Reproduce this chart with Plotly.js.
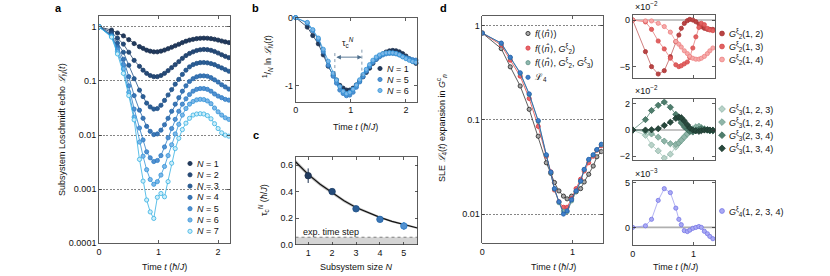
<!DOCTYPE html>
<html><head><meta charset="utf-8">
<script src="https://cdn.plot.ly/plotly-3.0.1.min.js"></script>
<style>html,body{margin:0;padding:0;background:#fff}#chart{width:830px;height:276px}</style>
</head><body><div id="chart"></div>
<script>
// ---------- DATA ----------
// panel a: subsystem Loschmidt echo L_N(t)
const timeA = [0, 0.21, 0.31, 0.41, 0.50, 0.59, 0.68, 0.74, 0.80, 0.86, 0.92, 0.98, 1.04, 1.10, 1.16, 1.22, 1.28, 1.34, 1.40, 1.46, 1.52, 1.58, 1.64, 1.70, 1.76, 1.82, 1.88, 1.94, 2.00, 2.06, 2.12, 2.18];
const echoN1 = [1.000, 0.871, 0.769, 0.681, 0.579, 0.490, 0.430, 0.400, 0.370, 0.355, 0.345, 0.345, 0.355, 0.372, 0.394, 0.419, 0.447, 0.476, 0.511, 0.542, 0.568, 0.587, 0.604, 0.614, 0.618, 0.615, 0.605, 0.589, 0.569, 0.547, 0.527, 0.511];
const echoN2 = [1.000, 0.794, 0.617, 0.479, 0.339, 0.240, 0.186, 0.158, 0.138, 0.126, 0.120, 0.120, 0.126, 0.138, 0.155, 0.176, 0.200, 0.227, 0.261, 0.294, 0.322, 0.345, 0.365, 0.377, 0.382, 0.378, 0.368, 0.350, 0.328, 0.305, 0.285, 0.269];
const echoN3 = [1.000, 0.724, 0.501, 0.339, 0.195, 0.110, 0.0676, 0.0513, 0.0389, 0.0331, 0.0302, 0.0309, 0.0355, 0.0437, 0.0550, 0.0692, 0.0871, 0.107, 0.132, 0.158, 0.182, 0.200, 0.211, 0.218, 0.219, 0.216, 0.209, 0.200, 0.186, 0.174, 0.162, 0.151];
const echoN4 = [1.000, 0.692, 0.427, 0.251, 0.120, 0.0537, 0.0288, 0.0204, 0.0145, 0.0117, 0.0102, 0.0105, 0.0123, 0.0155, 0.0204, 0.0275, 0.0372, 0.0490, 0.0646, 0.0813, 0.0977, 0.110, 0.119, 0.124, 0.124, 0.122, 0.115, 0.105, 0.0955, 0.0851, 0.0776, 0.0708];
const echoN5 = [1.000, 0.676, 0.389, 0.200, 0.0813, 0.0302, 0.0135, 0.00813, 0.00490, 0.00380, 0.00324, 0.00339, 0.00417, 0.00603, 0.00891, 0.0132, 0.0195, 0.0275, 0.0372, 0.0468, 0.0562, 0.0646, 0.0700, 0.0724, 0.0724, 0.0700, 0.0646, 0.0575, 0.0525, 0.0490, 0.0457, 0.0442];
const echoN6 = [1.000, 0.661, 0.347, 0.166, 0.0617, 0.0214, 0.00741, 0.00407, 0.00229, 0.00151, 0.00123, 0.00138, 0.00182, 0.00263, 0.00417, 0.00661, 0.0105, 0.0158, 0.0234, 0.0309, 0.0372, 0.0417, 0.0447, 0.0457, 0.0452, 0.0427, 0.0380, 0.0316, 0.0269, 0.0234, 0.0209, 0.0195];
const echoN7 = [1.000, 0.646, 0.316, 0.138, 0.0537, 0.0191, 0.00355, 0.00141, 0.000631, 0.000380, 0.000288, 0.000708, 0.000832, 0.000724, 0.00138, 0.00302, 0.00562, 0.00871, 0.0126, 0.0166, 0.0204, 0.0234, 0.0245, 0.0248, 0.0245, 0.0229, 0.0200, 0.0162, 0.0132, 0.0110, 0.0100, 0.00955];
const sizesA = [1, 2, 3, 4, 5, 6, 7];
const sizesB = [1, 5, 6];

// panel c: critical time vs subsystem size
const sizeN = [1, 2, 3, 4, 5];
const tauC = [0.52, 0.40, 0.27, 0.19, 0.14];
const tauErr = [0.055, 0.012, 0.010, 0.015, 0.030];
const fitN = [0.47, 1, 1.5, 2, 2.5, 3, 3.5, 4, 4.5, 5, 5.57];
const fitTau = [0.625, 0.53, 0.455, 0.39, 0.33, 0.28, 0.24, 0.205, 0.175, 0.15, 0.125];
const fitLow = [0.607, 0.514, 0.441, 0.377, 0.318, 0.269, 0.230, 0.196, 0.167, 0.142, 0.117];
const fitHigh = [0.643, 0.546, 0.469, 0.403, 0.342, 0.291, 0.250, 0.214, 0.183, 0.158, 0.133];
const expTimeStep = 0.055;

// panel d: SLE expansion
const timeD = [0, 0.21, 0.31, 0.42, 0.52, 0.62, 0.71, 0.76, 0.80, 0.85, 0.90, 0.94, 0.99, 1.04, 1.09, 1.13, 1.18, 1.23, 1.27, 1.32];
const sleF = [0.83, 0.568, 0.364, 0.228, 0.129, 0.0668, 0.035, 0.027, 0.0216, 0.0176, 0.0155, 0.0145, 0.0155, 0.0172, 0.0186, 0.0219, 0.0264, 0.0323, 0.0405, 0.046];
const sleFG2 = [0.83, 0.62, 0.428, 0.29, 0.168, 0.085, 0.041, 0.028, 0.018, 0.0135, 0.0118, 0.0118, 0.0146, 0.0186, 0.0234, 0.0286, 0.035, 0.041, 0.0475, 0.053];
const sleFG2G3 = [0.83, 0.645, 0.455, 0.31, 0.185, 0.096, 0.042, 0.0276, 0.0184, 0.0132, 0.0107, 0.0106, 0.0138, 0.0174, 0.0222, 0.0295, 0.0375, 0.0422, 0.048, 0.0545];
const sleL4 = [0.83, 0.65, 0.46, 0.315, 0.188, 0.098, 0.0425, 0.0279, 0.0186, 0.0135, 0.0100, 0.0108, 0.0142, 0.0176, 0.0224, 0.0298, 0.038, 0.0425, 0.0483, 0.055];
// connected correlators (G2, G3 in units of 1e-2, G4 in units of 1e-3)
const g2_12 = [0, -3.39, -5.0, -5.79, -5.43, -3.93, -2.32, -1.61, -0.89, -0.36, -0.07, 0.07, 0, -0.18, -0.43, -0.71, -0.89, -1.0, -1.0, -1.0];
const g2_13 = [0, -0.2, -1.0, -2.25, -3.1, -4.1, -4.8, -5.0, -4.9, -4.7, -4.5, -4.0, -3.0, -1.8, -0.8, -0.35, -0.5, -0.9, -1.07, -1.14];
const g2_14 = [0, -0.1, -0.1, -0.35, -0.7, -1.3, -2.3, -2.6, -2.9, -3.3, -3.6, -3.9, -4.1, -4.2, -4.2, -4.1, -3.9, -3.6, -3.3, -3.0];
const g3_123 = [0, -0.4, -1.15, -1.6, -2.15, -1.85, -1.3, -1.0, -0.75, -0.5, -0.25, -0.05, 0.1, 0.25, 0.3, 0.2, 0.1, 0.0, -0.05, -0.05];
const g3_124 = [0, -0.1, -0.3, -0.55, -0.85, -1.05, -1.1, -1.0, -0.8, -0.55, -0.3, -0.1, 0.05, 0.2, 0.25, 0.15, 0.05, 0, -0.05, 0];
const g3_234 = [0, 0.8, 1.5, 1.9, 2.15, 1.75, 1.2, 0.9, 0.55, 0.25, 0.05, -0.1, -0.15, -0.05, 0.05, 0.1, 0.05, 0, -0.05, -0.05];
const g3_134 = [0, 0, 0.02, 0.1, 0.35, 0.6, 0.9, 1.0, 0.95, 0.7, 0.4, 0.15, 0, -0.05, -0.1, -0.05, 0, 0.02, 0, -0.02];
const g4_1234 = [0, 0.18, 0.9, 3.0, 4.3, 3.86, 2.14, 0.9, 0.3, -0.36, -0.46, -0.3, -0.1, 0, 0.1, 0, -0.43, -0.7, -1.0, -1.25];

// ---------- LAYOUT HELPERS ----------
const W = 830, H = 276;
const FONT = 'Liberation Sans, Arial, Helvetica, sans-serif';
const dx = (a, b) => [a / W, b / W];
const dy = (top, bot) => [1 - bot / H, 1 - top / H];
const axis = (o) => Object.assign({
  showline: true, linecolor: '#333', linewidth: 0.8, mirror: 'ticks', ticks: 'inside',
  ticklen: 3, tickwidth: 0.8, tickcolor: '#333', zeroline: false, showgrid: false,
  tickfont: {size: 9, color: '#111', family: FONT}, fixedrange: true
}, o);
function minorLog(lo, hi) {
  const v = [];
  for (let e = lo; e <= hi; e++) for (let m = 2; m <= 9; m++) v.push(m * Math.pow(10, e));
  return v;
}

const echoSeries = [echoN1, echoN2, echoN3, echoN4, echoN5, echoN6, echoN7];
const nEdge = ['#1b2f4d', '#1d3e68', '#1f5186', '#2564a6', '#2b7bc4', '#3294d8', '#35b0e2'];
const nFill = ['#213a5e', '#254a78', '#2b5e96', '#3a76b6', '#5391d0', '#7db7e8', '#cdeefa'];
const MS = 4.2;

const traces = [];
function series(x, y, xa, ya, edge, fill, symbol, size, lineColor) {
  return {type: 'scatter', mode: 'lines+markers', x, y, xaxis: xa, yaxis: ya,
    line: {color: lineColor || edge, width: 0.8},
    marker: {color: fill, size: size || MS, symbol: symbol || 'circle', line: {color: edge, width: 0.8}},
    showlegend: false, hoverinfo: 'skip'};
}

// panel a
echoSeries.forEach((s, i) => traces.push(series(timeA, s, 'x', 'y', nEdge[i], nFill[i])));

// panel b : (1/N) ln L_N
sizesB.forEach((n) => {
  const idx = sizesA.indexOf(n);
  const y = echoSeries[idx].map(v => Math.log(v) / n);
  const tr = series(timeA, y, 'x2', 'y2', nEdge[idx], nFill[idx], 'circle', MS);
  tr.cliponaxis = false;
  traces.push(tr);
});

// panel c
traces.push({type: 'scatter', mode: 'lines', x: fitN, y: fitLow, xaxis: 'x3', yaxis: 'y3', line: {width: 0, color: 'rgba(0,0,0,0)'}, showlegend: false, hoverinfo: 'skip'});
traces.push({type: 'scatter', mode: 'lines', x: fitN, y: fitHigh, xaxis: 'x3', yaxis: 'y3', fill: 'tonexty', fillcolor: 'rgba(120,120,120,0.45)', line: {width: 0, color: 'rgba(0,0,0,0)'}, showlegend: false, hoverinfo: 'skip'});
traces.push({type: 'scatter', mode: 'lines', x: fitN, y: fitTau, xaxis: 'x3', yaxis: 'y3', line: {width: 1.2, color: '#111'}, showlegend: false, hoverinfo: 'skip'});
sizeN.forEach((n, i) => {
  traces.push({type: 'scatter', mode: 'markers', x: [n], y: [tauC[i]], xaxis: 'x3', yaxis: 'y3',
    error_y: {type: 'data', array: [tauErr[i]], color: nEdge[i], thickness: 1, width: 0},
    marker: {size: 6.5, color: nFill[i], line: {color: nEdge[i], width: 0.8}}, showlegend: false, hoverinfo: 'skip'});
});

// panel d main
const dStyles = [
  {y: sleF, edge: '#222', fill: '#a8a8a8', line: '#333'},
  {y: sleFG2, edge: '#d9363e', fill: '#e8666b', line: '#e04448'},
  {y: sleFG2G3, edge: '#5d8f84', fill: '#8fb8ae', line: '#5d8f84'},
  {y: sleL4, edge: '#1f5fae', fill: '#3f7fc8', line: '#2060b0'}
];
dStyles.forEach(s => traces.push(series(timeD, s.y, 'x4', 'y4', s.edge, s.fill, 'circle', MS, s.line)));

// sub panels
const g2Styles = [
  {y: g2_12, edge: '#a83232', fill: '#b94444', line: '#c46060'},
  {y: g2_13, edge: '#d84a4a', fill: '#e06262', line: '#e47a7a'},
  {y: g2_14, edge: '#ee8282', fill: '#f6aaaa', line: '#f4a0a0'}
];
g2Styles.forEach(s => traces.push(series(timeD, s.y, 'x5', 'y5', s.edge, s.fill, 'circle', MS, s.line)));
const g3Styles = [
  {y: g3_123, edge: '#8fb5a8', fill: '#b8d2c8', line: '#a8c8bc'},
  {y: g3_124, edge: '#6f9c8c', fill: '#8fb5a8', line: '#88b0a2'},
  {y: g3_234, edge: '#3c6a5a', fill: '#4e7d6c', line: '#5a8878'},
  {y: g3_134, edge: '#1d3a30', fill: '#27483c', line: '#2f5046'}
];
g3Styles.forEach(s => traces.push(series(timeD, s.y, 'x6', 'y6', s.edge, s.fill, 'diamond', 4.8, s.line)));
traces.push(series(timeD, g4_1234, 'x7', 'y7', '#7676e6', '#aaaaf4', 'circle', MS, '#a0a0f0'));

// ---------- legends (overlay axis in pixel units) ----------
const ann = [];
const txt = (x, y, text, o) => Object.assign({xref: 'x8', yref: 'y8', x, y, text, showarrow: false,
  font: {size: 9, color: '#111', family: FONT}, xanchor: 'center', yanchor: 'middle'}, o || {});
function legendItem(x, y, label, edge, fill, symbol, size) {
  traces.push({type: 'scatter', mode: 'markers', x: [x], y: [y], xaxis: 'x8', yaxis: 'y8',
    marker: {size: size || MS, color: fill, symbol: symbol || 'circle', line: {color: edge, width: 0.8}},
    showlegend: false, hoverinfo: 'skip', cliponaxis: false});
  ann.push(txt(x + 5, y, label, {xanchor: 'left'}));
}
sizesA.forEach((n, i) => legendItem(190, 163.5 + i * 11.3, '<i>N</i> = ' + n, nEdge[i], nFill[i]));
sizesB.forEach((n, i) => legendItem(380, 68.5 + i * 11, '<i>N</i> = ' + n, nEdge[sizesA.indexOf(n)], nFill[sizesA.indexOf(n)]));
const dLabels = ['<i>f</i>(⟨<i>n̂</i>⟩)', '<i>f</i>(⟨<i>n̂</i>⟩, <i>G</i><sup>ξ</sup><sub>2</sub>)',
  '<i>f</i>(⟨<i>n̂</i>⟩, <i>G</i><sup>ξ</sup><sub>2</sub>, <i>G</i><sup>ξ</sup><sub>3</sub>)', 'ℒ<sub>4</sub>'];
dStyles.forEach((s, i) => legendItem(528, 33.5 + i * 14.6, dLabels[i], s.edge, s.fill));
const g2Labels = ['(1, 2)', '(1, 3)', '(1, 4)'];
g2Styles.forEach((s, i) => legendItem(722, 33.5 + i * 13, '<i>G</i><sup>ξ</sup><sub>2</sub>' + g2Labels[i], s.edge, s.fill, 'circle', 4.8));
const g3Labels = ['(1, 2, 3)', '(1, 2, 4)', '(2, 3, 4)', '(1, 3, 4)'];
g3Styles.forEach((s, i) => legendItem(722, 109 + i * 13.1, '<i>G</i><sup>ξ</sup><sub>3</sub>' + g3Labels[i], s.edge, s.fill, 'diamond', 5.2));
legendItem(722, 211, '<i>G</i><sup>ξ</sup><sub>4</sub>(1, 2, 3, 4)', '#7676e6', '#aaaaf4', 'circle', 4.8);

// ---------- text ----------
const timeLabel = 'Time <i>t</i> (<i>ħ</i>/<i>J</i>)';
ann.push(txt(58, 8, '<b>a</b>', {font: {size: 11, color: '#000', family: FONT}}));
ann.push(txt(255, 8, '<b>b</b>', {font: {size: 11, color: '#000', family: FONT}}));
ann.push(txt(256, 135, '<b>c</b>', {font: {size: 11, color: '#000', family: FONT}}));
ann.push(txt(443, 8, '<b>d</b>', {font: {size: 11, color: '#000', family: FONT}}));
ann.push(txt(164, 267, timeLabel));
ann.push(txt(62, 130, 'Subsystem Loschmidt echo <i>ℒ<sub>N</sub></i>(<i>t</i>)', {textangle: -90}));
ann.push(txt(355, 127, timeLabel));
ann.push(txt(267, 57, '<sup>1</sup>/<sub><i>N</i></sub> ln <i>ℒ<sub>N</sub></i>(<i>t</i>)', {textangle: -90}));
ann.push(txt(356, 267, 'Subsystem size <i>N</i>'));
ann.push(txt(263, 200, 'τ<sub>c</sub><sup><i>N</i></sup> (<i>ħ</i>/<i>J</i>)', {textangle: -90}));
ann.push(txt(441, 128, 'SLE <i>ℒ</i><sub>4</sub>(<i>t</i>) expansion in <i>G</i><sup>c</sup><sub><i>n</i></sub>', {textangle: -90}));
ann.push(txt(553, 267, timeLabel));
ann.push(txt(675, 267, timeLabel));
ann.push(txt(633, 6, '×10<sup>−2</sup>', {xanchor: 'left'}));
ann.push(txt(633, 90, '×10<sup>−2</sup>', {xanchor: 'left'}));
ann.push(txt(633, 173, '×10<sup>−3</sup>', {xanchor: 'left'}));
ann.push(txt(301, 232, 'exp. time step', {xanchor: 'left'}));
// tau_c arrow in panel b
ann.push({xref: 'x2', yref: 'y2', axref: 'x2', ayref: 'y2', x: 1.2, y: -0.58, ax: 0.71, ay: -0.58, text: '',
  showarrow: true, arrowside: 'end+start', arrowhead: 2, arrowsize: 1, arrowwidth: 0.9, arrowcolor: '#4d6e8c'});
ann.push({xref: 'x2', yref: 'y2', x: 0.95, y: -0.36, text: 'τ<sub>c</sub><sup><i>N</i></sup>', showarrow: false,
  font: {size: 9, color: '#111', family: FONT}});

// ---------- shapes ----------
const shapes = [];
const hline = (xa, ya, y, color, width, dash) => ({type: 'line', xref: xa + ' domain', x0: 0, x1: 1, yref: ya, y0: y, y1: y,
  line: {color, width, dash: dash || 'solid'}, layer: 'below'});
shapes.push(hline('x', 'y', 0, '#b8b8b8', 1.2));
shapes.push(hline('x4', 'y4', 0, '#b8b8b8', 1.2));
shapes.push(hline('x5', 'y5', 0, '#b0b0b0', 1.6));
shapes.push(hline('x6', 'y6', 0, '#b0b0b0', 1.6));
shapes.push(hline('x7', 'y7', 0, '#b0b0b0', 1.6));
shapes.push({type: 'rect', xref: 'x3 domain', x0: 0, x1: 1, yref: 'y3', y0: 0, y1: expTimeStep,
  fillcolor: '#d4d4d4', line: {width: 0}, layer: 'below'});
shapes.push({type: 'line', xref: 'x3 domain', x0: 0, x1: 1, yref: 'y3', y0: expTimeStep, y1: expTimeStep,
  line: {color: '#555', width: 0.7, dash: 'dot'}});
shapes.push({type: 'line', xref: 'x2', yref: 'y2', x0: 0.71, x1: 0.71, y0: -0.52, y1: -0.86, line: {color: '#4d6e8c', width: 0.7, dash: 'dot'}});
shapes.push({type: 'line', xref: 'x2', yref: 'y2', x0: 1.2, x1: 1.2, y0: -0.47, y1: -0.92, line: {color: '#4d6e8c', width: 0.7, dash: 'dot'}});

const logGrid = {showgrid: true, gridcolor: '#333', gridwidth: 0.6, griddash: '2px,1.5px'};
// minor log ticks drawn by label-less overlay axes
const minorAxis = (overlay, anchor, range, vals) => ({overlaying: overlay, anchor, type: 'log', range, tickmode: 'array',
  tickvals: vals, showticklabels: false, ticks: 'inside', ticklen: 2, tickwidth: 0.6, tickcolor: '#333',
  showline: false, mirror: 'ticks', showgrid: false, zeroline: false, fixedrange: true, side: 'left'});

const layout = {
  width: W, height: H, margin: {l: 0, r: 0, t: 0, b: 0}, paper_bgcolor: '#fff', plot_bgcolor: 'rgba(0,0,0,0)',
  font: {family: FONT, size: 9, color: '#111'}, showlegend: false,
  xaxis: axis({domain: dx(99, 230), range: [0, 2.2], tickvals: [0, 1, 2], anchor: 'y'}),
  yaxis: axis(Object.assign({domain: dy(16, 243.3), type: 'log', range: [-4, 0.2], anchor: 'x',
    tickvals: [1, 0.1, 0.01, 0.001, 0.0001], ticktext: ['1', '0.1', '0.01', '0.001', '0.0001']}, logGrid)),
  yaxis9: minorAxis('y', 'x', [-4, 0.2], minorLog(-4, 0)),
  xaxis2: axis({domain: dx(295.7, 417), range: [0, 2.2], tickvals: [0, 1, 2], anchor: 'y2'}),
  yaxis2: axis({domain: dy(17.7, 101.7), range: [-1.235, 0], tickvals: [0, -1], ticktext: ['0', '-1'], anchor: 'x2'}),
  xaxis3: axis({domain: dx(295.5, 417.5), range: [0.47, 5.57], tickvals: [1, 2, 3, 4, 5], anchor: 'y3'}),
  yaxis3: axis({domain: dy(156.5, 244.5), range: [0, 0.665], tickvals: [0, 0.2, 0.4, 0.6], ticktext: ['0.0', '0.2', '0.4', '0.6'], anchor: 'x3'}),
  xaxis4: axis({domain: dx(482.3, 602.7), range: [0, 1.335], tickvals: [0, 1], anchor: 'y4'}),
  yaxis4: axis(Object.assign({domain: dy(16, 243.3), type: 'log', range: [-2.31, 0.1], anchor: 'x4',
    tickvals: [1, 0.1, 0.01], ticktext: ['1', '0.1', '0.01']}, logGrid)),
  yaxis10: minorAxis('y4', 'x4', [-2.31, 0.1], minorLog(-3, 0)),
  xaxis5: axis({domain: dx(632.7, 715.3), range: [0, 1.36], tickvals: [0, 1], showticklabels: false, anchor: 'y5'}),
  yaxis5: axis({domain: dy(15, 78.3), range: [-6.25, 0.54], tickvals: [0, -5], ticktext: ['0', '−5'], anchor: 'x5'}),
  xaxis6: axis({domain: dx(632.7, 715.3), range: [0, 1.36], tickvals: [0, 1], showticklabels: false, anchor: 'y6'}),
  yaxis6: axis({domain: dy(99.3, 160), range: [-2.3, 2.36], tickvals: [-2, 0, 2], ticktext: ['−2', '0', '2'], anchor: 'x6'}),
  xaxis7: axis({domain: dx(632.7, 715.3), range: [0, 1.36], tickvals: [0, 1], anchor: 'y7'}),
  yaxis7: axis({domain: dy(181, 245), range: [-1.95, 5.15], tickvals: [0, 5], anchor: 'x7'}),
  xaxis8: {domain: [0, 1], range: [0, W], visible: false, fixedrange: true, anchor: 'y8'},
  yaxis8: {domain: [0, 1], range: [H, 0], visible: false, fixedrange: true, anchor: 'x8'},
  annotations: ann, shapes: shapes
};

Plotly.newPlot('chart', traces, layout, {staticPlot: true, displayModeBar: false});
</script></body></html>
